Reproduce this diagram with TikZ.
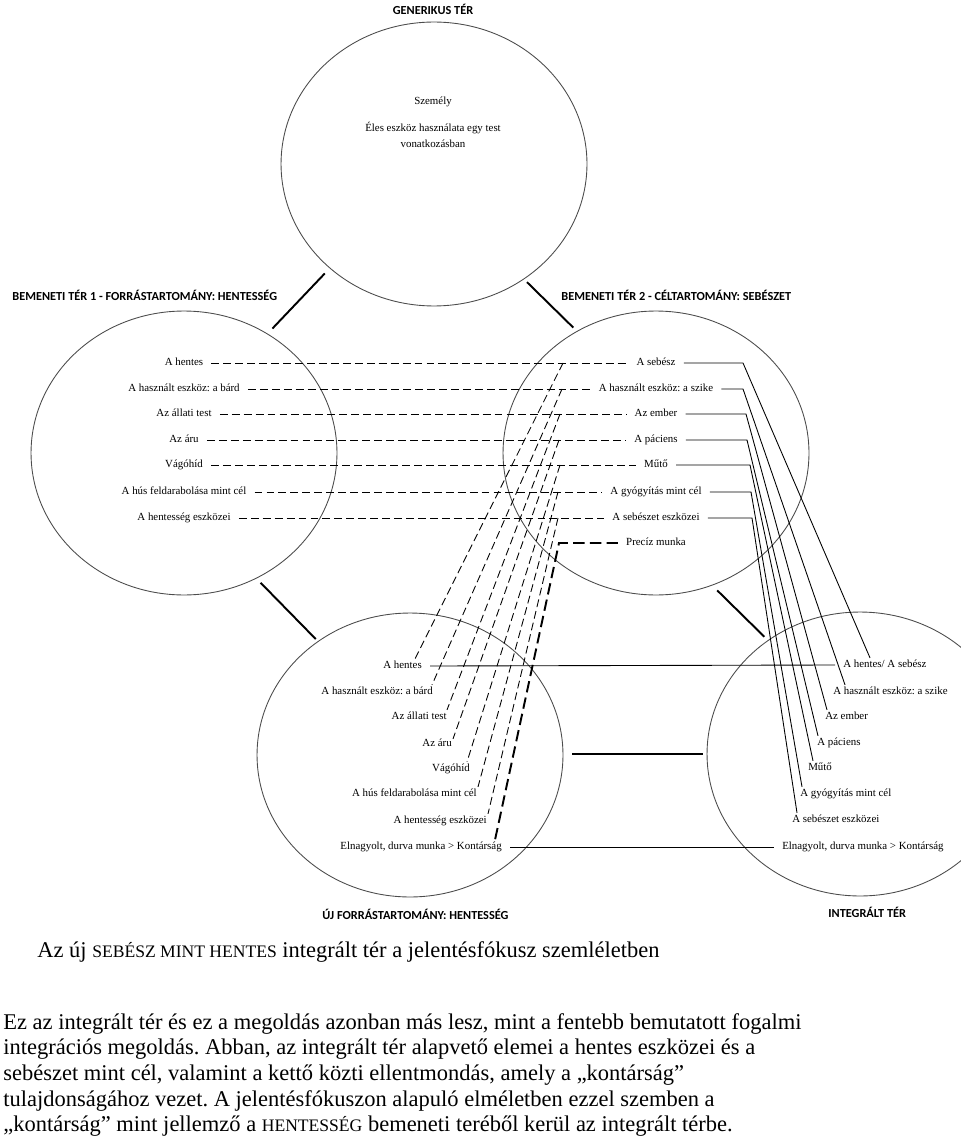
\documentclass[tikz,border=0pt]{standalone}
\usepackage{fontspec}
\setmainfont{Liberation Serif}
\newfontfamily\calib{Carlito}
\usetikzlibrary{shapes.geometric}
\usetikzlibrary{calc}
\frenchspacing

\begin{document}
\begin{tikzpicture}[x=0.02cm,y=-0.02cm,
  spacebox/.style={draw=black!70,line width=0.5pt,ellipse,inner sep=0pt,minimum width=6.12cm,minimum height=5.68cm},
  spacetitle/.style={font=\calib\bfseries\fontsize{7}{8}\selectfont,inner sep=0pt},
  itemlbl/.style={font=\fontsize{6.2}{7}\selectfont,inner xsep=4.5pt,inner ysep=1pt,text height=4.4pt,text depth=1.3pt},
  joinline/.style={line width=1.1pt},
  dashrow/.style={line width=0.5pt,dash pattern=on 4.5pt off 2.3pt},
  boldrow/.style={line width=1.1pt,dash pattern=on 6.5pt off 3pt},
  solidrow/.style={line width=0.5pt}]
\useasboundingbox (0,0) rectangle (960,1138);

\node[spacebox] (gen) at (434,164) {};
\node[spacebox] (src) at (184,453) {};
\node[spacebox] (tgt) at (656,453) {};
\node[spacebox] (nsrc) at (410,755) {};
\node[spacebox] (blend) at (860,754) {};

\node[spacetitle] (gent) at (433,9) {GENERIKUS TÉR};
\node[spacetitle,anchor=west] (srct) at (12,295) {BEMENETI TÉR 1 - FORRÁSTARTOMÁNY: HENTESSÉG};
\node[spacetitle,anchor=west] (tgtt) at (561,295) {BEMENETI TÉR 2 - CÉLTARTOMÁNY: SEBÉSZET};
\node[spacetitle,anchor=west] (nsrct) at (322,914) {ÚJ FORRÁSTARTOMÁNY: HENTESSÉG};
\node[spacetitle,anchor=west] (blendt) at (828,912) {INTEGRÁLT TÉR};

\draw[joinline,shorten <=4pt,shorten >=4pt] (gen.-135) -- (src.55);
\draw[joinline,shorten <=2.3pt,shorten >=2.8pt] (gen.-52.6) -- (tgt.123.9);
\draw[joinline,shorten <=3.4pt,shorten >=1.7pt] (src.-60.2) -- (nsrc.129);
\draw[joinline,shorten <=4pt,shorten >=2.8pt] (tgt.-67) -- (blend.129.9);
\draw[joinline,shorten <=5pt,shorten >=2.3pt] (nsrc.east |- blend.west) -- (blend.west);

\node[itemlbl] (g1) at (433,102) {Személy};
\node[itemlbl,align=center,font=\fontsize{6.2}{9}\selectfont,text height=,text depth=] (g2) at (433,135) {Éles eszköz használata egy test\\vonatkozásban};

\node[itemlbl] (s1) at (184,363) {A hentes};
\node[itemlbl] (s2) at (184,389) {A használt eszköz: a bárd};
\node[itemlbl] (s3) at (184,414) {Az állati test};
\node[itemlbl] (s4) at (184,440) {Az áru};
\node[itemlbl] (s5) at (184,465) {Vágóhíd};
\node[itemlbl] (s6) at (184,492) {A hús feldarabolása mint cél};
\node[itemlbl] (s7) at (184,518) {A hentesség eszközei};

\node[itemlbl] (t1) at (656,363) {A sebész};
\node[itemlbl] (t2) at (656,389) {A használt eszköz: a szike};
\node[itemlbl] (t3) at (656,414) {Az ember};
\node[itemlbl] (t4) at (656,440) {A páciens};
\node[itemlbl] (t5) at (656,465) {Műtő};
\node[itemlbl] (t6) at (656,492) {A gyógyítás mint cél};
\node[itemlbl] (t7) at (656,518) {A sebészet eszközei};
\node[itemlbl] (t8) at (656,543) {Precíz munka};

\node[itemlbl,anchor=east] (n1) at (430,666) {A hentes};
\node[itemlbl,anchor=east] (n2) at (441,692) {A használt eszköz: a bárd};
\node[itemlbl,anchor=east] (n3) at (455,717) {Az állati test};
\node[itemlbl,anchor=east] (n4) at (460,744) {Az áru};
\node[itemlbl,anchor=east] (n5) at (478,769) {Vágóhíd};
\node[itemlbl,anchor=east] (n6) at (485,794) {A hús feldarabolása mint cél};
\node[itemlbl,anchor=east] (n7) at (495,821) {A hentesség eszközei};
\node[itemlbl,anchor=east] (n8) at (510,847) {Elnagyolt, durva munka > Kontárság};

\node[itemlbl,anchor=west] (b1) at (835,665) {A hentes/ A sebész};
\node[itemlbl,anchor=west] (b2) at (825,692) {A használt eszköz: a szike};
\node[itemlbl,anchor=west] (b3) at (817,717) {Az ember};
\node[itemlbl,anchor=west] (b4) at (809,743) {A páciens};
\node[itemlbl,anchor=west] (b5) at (800,768) {Műtő};
\node[itemlbl,anchor=west] (b6) at (792,794) {A gyógyítás mint cél};
\node[itemlbl,anchor=west] (b7) at (784,820) {A sebészet eszközei};
\node[itemlbl,anchor=west] (b8) at (774,847) {Elnagyolt, durva munka > Kontárság};

\coordinate (c1) at (563,363);
\coordinate (c2) at (562,389);
\coordinate (c3) at (560,414);
\coordinate (c4) at (559,440);
\coordinate (c5) at (560,465);
\coordinate (c6) at (558,492);
\coordinate (c7) at (558,518);
\coordinate (c8) at (559,543);

\draw[dashrow] (s1.east) -- (t1.west);
\draw[dashrow] (s2.east) -- (t2.west);
\draw[dashrow] (s3.east) -- (t3.west);
\draw[dashrow] (s4.east) -- (t4.west);
\draw[dashrow] (s5.east) -- (t5.west);
\draw[dashrow] (s6.east) -- (t6.west);
\draw[dashrow] (s7.east) -- (t7.west);
\draw[dashrow] (c1) -- ($(n1.north east)+(-15,0)$);
\draw[dashrow] (c2) -- ($(n2.north east)+(-9,0)$);
\draw[dashrow] (c3) -- ($(n3.north east)+(-8,0)$);
\draw[dashrow] (c4) -- ($(n4.north east)+(-7,2)$);
\draw[dashrow] (c5) -- ($(n5.north east)+(-11,0)$);
\draw[dashrow] (c6) -- ($(n6.north east)+(-7,0)$);
\draw[dashrow] (c7) -- ($(n7.north east)+(-7,0)$);
\draw[boldrow] (t8.west) -- (c8) -- ($(n8.north east)+(-15,0)$);

\coordinate (d1) at (743,363);
\coordinate (d2) at (743,389);
\coordinate (d3) at (746,414);
\coordinate (d4) at (747,440);
\coordinate (d5) at (750,465);
\coordinate (d6) at (751,492);
\coordinate (d7) at (752,518);

\draw[solidrow] (t1.east) -- (d1) -- ($(b1.north west)+(35,0)$);
\draw[solidrow] (t2.east) -- (d2) -- ($(b2.north west)+(20,0)$);
\draw[solidrow] (t3.east) -- (d3) -- ($(b3.north west)+(10,0)$);
\draw[solidrow] (t4.east) -- (d4) -- ($(b4.north west)+(9,0)$);
\draw[solidrow] (t5.east) -- (d5) -- ($(b5.north west)+(13,0)$);
\draw[solidrow] (t6.east) -- (d6) -- ($(b6.north west)+(10,0)$);
\draw[solidrow] (t7.east) -- (d7) -- ($(b7.north west)+(13,0)$);
\draw[solidrow] (n1.east) -- (b1.west);
\draw[solidrow] (n8.east) -- (b8.west);

\node[anchor=west,inner sep=0pt,font=\fontsize{12.8}{14.2}\selectfont] (cap) at (37,952) {Az új {\fontsize{10}{12}\selectfont SEBÉSZ MINT HENTES} integrált tér a jelentésfókusz szemléletben};
\node[anchor=north west,inner sep=0pt,align=left,font=\fontsize{12.8}{14.6}\selectfont] (para) at (3,1013) {Ez az integrált tér és ez a megoldás azonban más lesz, mint a fentebb bemutatott fogalmi\\
integrációs megoldás. Abban, az integrált tér alapvető elemei a hentes eszközei és a\\
sebészet mint cél, valamint a kettő közti ellentmondás, amely a „kontárság”\\
tulajdonságához vezet. A jelentésfókuszon alapuló elméletben ezzel szemben a\\
„kontárság” mint jellemző a {\fontsize{10}{12}\selectfont HENTESSÉG} bemeneti teréből kerül az integrált térbe.};

\end{tikzpicture}
\end{document}
